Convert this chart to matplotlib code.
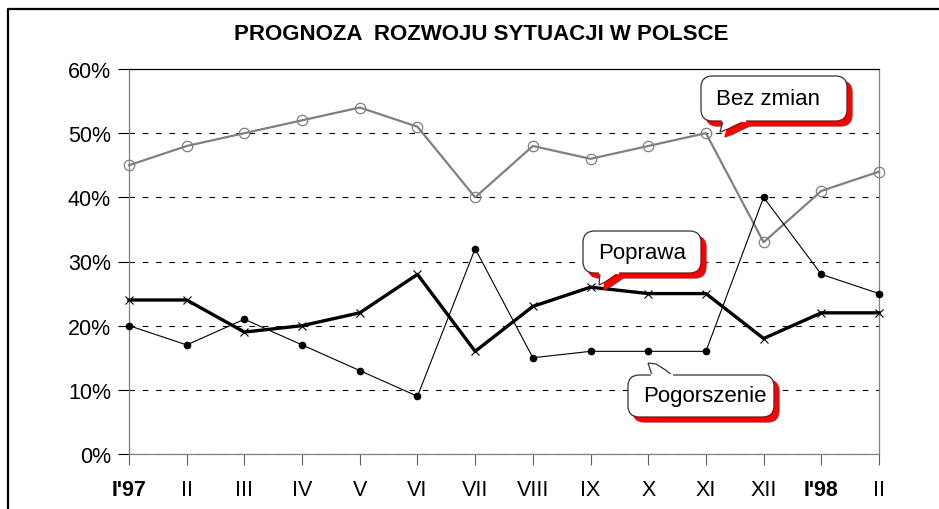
import matplotlib
matplotlib.use('Agg')
import matplotlib.pyplot as plt
from matplotlib.patches import FancyBboxPatch, Polygon
from matplotlib.lines import Line2D

plt.rcParams['font.family'] = ['Liberation Sans', 'DejaVu Sans']

# months from January 1997 to February 1998
months = ["I'97", 'II', 'III', 'IV', 'V', 'VI', 'VII', 'VIII', 'IX', 'X', 'XI', 'XII', "I'98", 'II']
bez_zmian = [45, 48, 50, 52, 54, 51, 40, 48, 46, 48, 50, 33, 41, 44]
poprawa = [24, 24, 19, 20, 22, 28, 16, 23, 26, 25, 25, 18, 22, 22]
pogorszenie = [20, 17, 21, 17, 13, 9, 32, 15, 16, 16, 16, 40, 28, 25]
y_ticks = [0, 10, 20, 30, 40, 50, 60]

W, H = 939, 510
fig = plt.figure(figsize=(W / 100, H / 100), dpi=100)


# helper: pixel position (from top-left) -> figure fraction
def px(x, y):
    return (x / W, 1 - y / H)


ax = fig.add_axes([129 / W, 1 - 455 / H, 750 / W, 385 / H])
x = list(range(len(months)))

# dashed gridlines
for v in y_ticks[:-1]:
    ax.axhline(v, color='black', lw=0.8, ls=(0, (5, 7)), zorder=1)

ax.plot(x, bez_zmian, color='#808080', lw=1.6, marker='o', ms=7.5,
        mfc='none', mec='#808080', mew=0.9, clip_on=False, zorder=3)
ax.plot(x, pogorszenie, color='black', lw=0.8, marker='o', ms=4.5,
        mfc='black', mec='black', clip_on=False, zorder=4)
ax.plot(x, poprawa, color='black', lw=2.4, marker='x', ms=6,
        mew=0.8, clip_on=False, zorder=5)

ax.set_xlim(0, len(months) - 1)
ax.set_ylim(0, 60)
ax.set_yticks(y_ticks)
ax.set_yticklabels([f'{v}%' for v in y_ticks], fontsize=15.5)
ax.set_xticks(x)
ax.set_xticklabels(months, fontsize=15.5)
for lbl in ax.get_xticklabels():
    if lbl.get_text().startswith("I'"):
        lbl.set_fontweight('bold')

ax.tick_params(axis='y', length=8, width=0.8, color='black', pad=5)
ax.tick_params(axis='x', length=8, width=0.8, color='#606060', pad=10)
ax.spines['left'].set_color('#808080')
ax.spines['right'].set_color('#808080')
ax.spines['bottom'].set_color('#808080')
ax.spines['top'].set_color('black')
for s in ax.spines.values():
    s.set_linewidth(0.9)

fig.text(*px(481, 35), 'PROGNOZA  ROZWOJU SYTUACJI W POLSCE', ha='center',
         va='center', fontsize=16, fontweight='bold')

# outer frame (left and top edges visible)
fig.add_artist(Line2D([8 / W, 8 / W, 1.0], [0.0, 1 - 10 / H, 1 - 10 / H],
                      transform=fig.transFigure, color='black', lw=1.6))


# speech-bubble callouts with red drop shadow
def callout(text, x0, y0, x1, y1, tail):
    for dx, dy, fc, ec, z in [(5, 5, 'red', 'red', 6), (0, 0, 'white', '#333333', 7)]:
        a = px(x0 + dx, y1 + dy)
        b = px(x1 + dx, y0 + dy)
        box = FancyBboxPatch(a, b[0] - a[0], b[1] - a[1],
                             boxstyle='round,pad=0,rounding_size=0.012',
                             transform=fig.transFigure, fc=fc, ec=ec,
                             lw=0.9, zorder=z, mutation_aspect=W / H)
        fig.add_artist(box)
        pts = [px(tx + dx, ty + dy) for tx, ty in tail]
        fig.add_artist(Polygon(pts, closed=True, transform=fig.transFigure,
                               fc=fc, ec=ec, lw=0.9, zorder=z))
        if fc == 'white':
            # hide the box edge under the tail base
            base = [px(tx, ty) for tx, ty in (tail[0], tail[-1])]
            fig.add_artist(Line2D([base[0][0], base[1][0]], [base[0][1], base[1][1]],
                                  transform=fig.transFigure, color='white',
                                  lw=1.6, zorder=z + 0.5))
    fig.text(*px(x0 + 15, (y0 + y1) / 2), text, ha='left',
             va='center', fontsize=16, zorder=9)


callout('Bez zmian', 701, 77, 847, 122,
        [(723, 122), (720, 133), (728, 130), (736, 126), (745, 122)])
callout('Poprawa', 583, 232, 701, 274,
        [(600, 274), (599, 286), (605, 283), (611, 279), (618, 274)])
callout('Pogorszenie', 628, 376, 774, 418,
        [(652, 376), (648, 364), (656, 365), (664, 370), (672, 376)])

fig.savefig('out.png', dpi=100)
